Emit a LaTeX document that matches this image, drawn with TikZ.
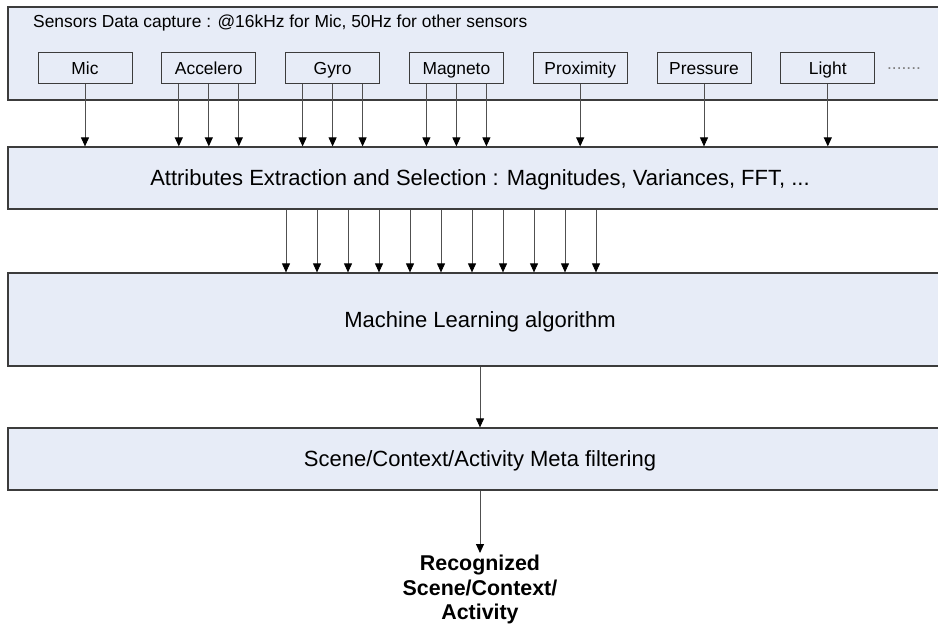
\documentclass[tikz,border=0pt]{standalone}
\usepackage{fontspec}
\setmainfont{Liberation Sans}
\usetikzlibrary{arrows.meta}
\definecolor{panelblue}{RGB}{231,236,247}
\definecolor{edgegray}{RGB}{60,60,60}
\definecolor{arrowgray}{RGB}{80,80,80}

\begin{document}
\begin{tikzpicture}[x=1pt, y=-1pt,
    layer/.style={draw=edgegray, fill=panelblue, line width=1.2pt, minimum width=944pt, inner sep=0pt, text height=15.8pt, text depth=0pt, font=\fontsize{22}{26}\selectfont},
    sensor/.style={draw=edgegray, fill=panelblue, line width=1pt, minimum width=94pt, minimum height=31pt, inner sep=0pt, text height=12.5pt, text depth=0pt, font=\fontsize{17.4}{20}\selectfont},
    arr/.style={draw=arrowgray, line width=0.9pt, -{Triangle[width=8pt,length=9pt,color=black]}}]
    \clip (0,0) rectangle (938,626);
    \node[layer, minimum height=93pt] (capture) at (480,53.5) {};
    \node[layer, minimum height=62pt] (attr) at (480,178) {Attributes Extraction and Selection : Magnitudes, Variances, FFT, ...};
    \node[layer, minimum height=93pt] (ml) at (480,319.5) {Machine Learning algorithm};
    \node[layer, minimum height=62pt] (scene) at (480,459) {Scene/Context/Activity Meta filtering};
    \node[anchor=west, inner sep=0pt, font=\fontsize{17.4}{20}\selectfont] (title) at (33,23) {Sensors Data capture : @16kHz for Mic, 50Hz for other sensors};
    \foreach \name/\label [count=\i from 0] in {mic/Mic, acc/Accelero, gyro/Gyro, mag/Magneto, prox/Proximity, press/Pressure, light/Light}
        \node[sensor] (\name) at (85+123.8*\i, 68.5) {\label};
    \node[inner sep=0pt, text=gray, font=\fontsize{17.4}{20}\selectfont] (more) at (904,69) {.......};
    % single-axis sensors
    \foreach \name in {mic, prox, press, light}
        \draw[arr] (\name.south) -- (\name.south |- attr.north);
    % three-axis sensors
    \foreach \name in {acc, gyro, mag}
        \foreach \dx in {-30,0,30} {
            \coordinate (src) at ([xshift=\dx pt]\name.south);
            \draw[arr] (src) -- (src |- attr.north);
        }
    \foreach \i in {0,...,10} {
        \coordinate (feat) at ([xshift={(-194+31*\i)*1pt}]attr.south);
        \draw[arr] (feat) -- (feat |- ml.north);
    }
    \draw[arr] (ml.south) -- (scene.north);
    \node[anchor=north, align=center, inner sep=2pt, font=\bfseries\fontsize{21.4}{24.6}\selectfont] (result) at (480,553) {Recognized\\Scene/Context/\\Activity};
    \draw[arr] (scene.south) -- (result.north);
\end{tikzpicture}
\end{document}
